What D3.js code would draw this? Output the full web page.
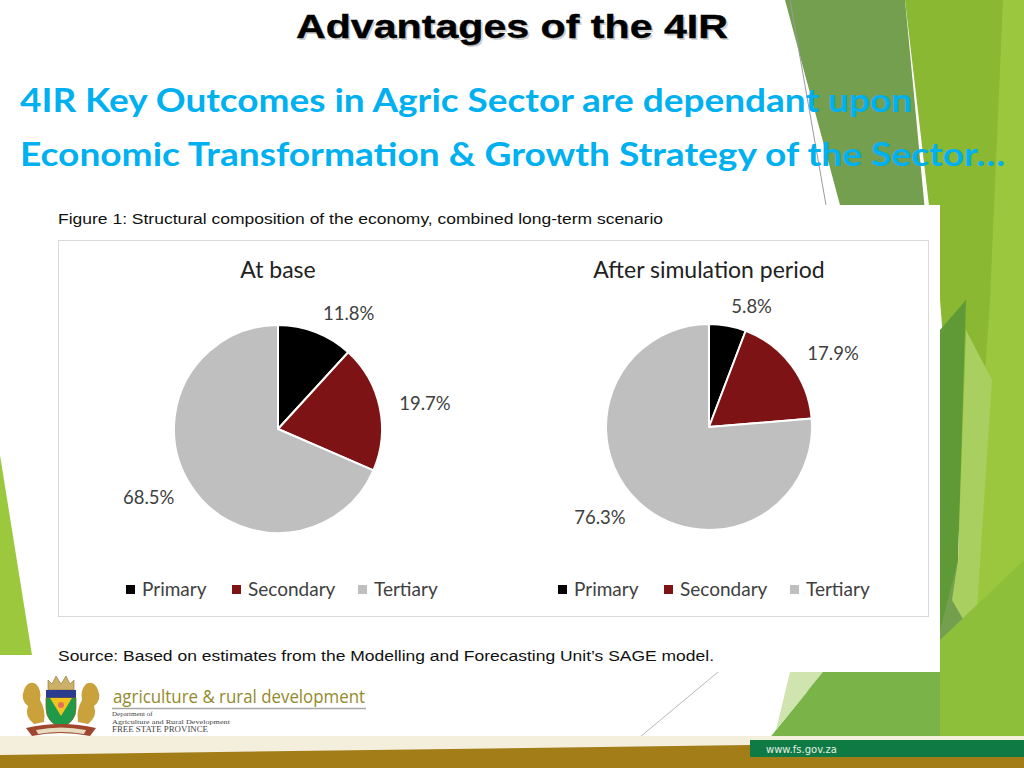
<!DOCTYPE html>
<html>
<head>
<meta charset="utf-8">
<script src="https://cdn.jsdelivr.net/npm/d3@7"></script>
<style>
  body { margin: 0; background: #fff; }
  svg { display: block; }
</style>
</head>
<body>
<svg id="Slide"></svg>
<script>
// chart values
let categories = ["Primary", "Secondary", "Tertiary"];
let baseShares = [11.8, 19.7, 68.5];
let afterShares = [5.8, 17.9, 76.3];
let pieTitles = ["At base", "After simulation period"];
let sliceColours = ["#000000", "#7d1315", "#bfbfbf"];

let slideTitle = "Advantages of the 4IR";
let subtitleLines = [
    "4IR Key Outcomes in Agric Sector are dependant upon",
    "Economic Transformation & Growth Strategy of the Sector\u2026"
];
let figureCaption = "Figure 1: Structural composition of the economy, combined long-term scenario";
let sourceNote = "Source: Based on estimates from the Modelling and Forecasting Unit\u2019s SAGE model.";

function getSlideConfig() {
    let width = 1024;
    let height = 768;
    let container = d3.select("#Slide")
        .attr("width", width)
        .attr("height", height);
    return { width, height, container }
}

function drawBackground(config) {
    let { container } = config;
    let shapes = [
        { pts: [[785,0],[905,0],[975,740],[800,740],[850,400],[840,205]], fill: "#739f4f" },
        { pts: [[905,0],[1003,0],[1000,740],[975,740],[940,300]], fill: "#8ab833" },
        { pts: [[1003,0],[1024,0],[1024,740],[960,740],[990,300]], fill: "#9ac73e" },
        { pts: [[940,330],[966,300],[958,560],[940,630]], fill: "#5f9a37" },
        { pts: [[966,330],[992,380],[975,640],[952,600],[958,560]], fill: "#a8cf60" },
        { pts: [[768,740],[823,672],[1024,672],[1024,740]], fill: "#7ab448" },
        { pts: [[940,640],[1024,560],[1024,740],[940,740]], fill: "#8dbf3a" },
        { pts: [[790,672],[823,672],[776,730]], fill: "#cfe4af" },
        { pts: [[0,455],[32,655],[0,655]], fill: "#9cc83e" }
    ];
    container.append("g").selectAll("polygon")
        .data(shapes)
        .enter().append("polygon")
        .attr("points", d => d.pts.map(p => p.join(",")).join(" "))
        .attr("fill", d => d.fill);

    container.append("line")
        .attr("x1", 790).attr("y1", 0).attr("x2", 826).attr("y2", 205)
        .attr("stroke", "#9a9a9a").attr("stroke-width", 1);
    container.append("line")
        .attr("x1", 640).attr("y1", 737).attr("x2", 718).attr("y2", 672)
        .attr("stroke", "#b8b8b8").attr("stroke-width", 1);

    // footer band
    container.append("rect")
        .attr("x", 0).attr("y", 736).attr("width", 1024).attr("height", 20)
        .attr("fill", "#f4eedc");
    container.append("polygon")
        .attr("points", "0,755 750,745 1024,744 1024,768 0,768")
        .attr("fill", "#a27d18");
    container.append("rect")
        .attr("x", 750).attr("y", 740).attr("width", 274).attr("height", 17)
        .attr("fill", "#0f7a43");
    container.append("text")
        .attr("x", 766).attr("y", 753)
        .attr("font-family", "Verdana, 'DejaVu Sans', sans-serif")
        .attr("font-size", 10)
        .attr("fill", "#e6efe6")
        .text("www.fs.gov.za");
}

function drawHeadings(config) {
    let { container } = config;
    container.append("text")
        .attr("x", 514).attr("y", 40)
        .attr("text-anchor", "middle")
        .attr("font-family", "'Liberation Sans', Arial, sans-serif")
        .attr("font-weight", "bold")
        .attr("font-size", 33)
        .attr("fill", "#9a9a9a")
        .attr("opacity", 0.45)
        .attr("textLength", 432)
        .attr("lengthAdjust", "spacingAndGlyphs")
        .text(slideTitle);
    container.append("text")
        .attr("x", 512).attr("y", 38)
        .attr("text-anchor", "middle")
        .attr("font-family", "'Liberation Sans', Arial, sans-serif")
        .attr("font-weight", "bold")
        .attr("font-size", 33)
        .attr("fill", "#000")
        .attr("stroke", "#000")
        .attr("stroke-width", 0.4)
        .attr("textLength", 432)
        .attr("lengthAdjust", "spacingAndGlyphs")
        .text(slideTitle);

    let widths = [892, 985];
    container.append("g").selectAll("text")
        .data(subtitleLines)
        .enter().append("text")
        .attr("x", 20)
        .attr("y", (d, i) => 112 + i * 54)
        .attr("font-family", "Lato, 'Open Sans', sans-serif")
        .attr("font-weight", "bold")
        .attr("font-size", 33)
        .attr("fill", "#00b0f0")
        .attr("textLength", (d, i) => widths[i])
        .attr("lengthAdjust", "spacingAndGlyphs")
        .text(d => d);
}

function drawFigurePanel(config) {
    let { container } = config;
    container.append("rect")
        .attr("x", 38).attr("y", 205).attr("width", 902).attr("height", 467)
        .attr("fill", "#fff");
    container.append("text")
        .attr("x", 58).attr("y", 224)
        .attr("font-family", "'Liberation Sans', Arial, sans-serif")
        .attr("font-size", 15.5)
        .attr("fill", "#111")
        .attr("textLength", 605)
        .attr("lengthAdjust", "spacingAndGlyphs")
        .text(figureCaption);
    container.append("rect")
        .attr("x", 58.5).attr("y", 240.5).attr("width", 870).attr("height", 376)
        .attr("fill", "#fff")
        .attr("stroke", "#d9d9d9");
    container.append("text")
        .attr("x", 58).attr("y", 661)
        .attr("font-family", "'Liberation Sans', Arial, sans-serif")
        .attr("font-size", 15.5)
        .attr("fill", "#111")
        .attr("textLength", 656)
        .attr("lengthAdjust", "spacingAndGlyphs")
        .text(sourceNote);
}

function drawPie(values, title, cx, cy, radius, legendX, config) {
    let { container } = config;
    let colour = d3.scaleOrdinal().domain(categories).range(sliceColours);
    let slices = d3.pie()
        .sort(null)
        .value(d => d.value)(categories.map((c, i) => ({ name: c, value: values[i] })));
    let arc = d3.arc().innerRadius(0).outerRadius(radius);
    let labelArc = d3.arc().innerRadius(radius + 20).outerRadius(radius + 20);

    let body = container.append("g")
        .attr("transform", `translate(${cx},${cy})`);

    body.selectAll("path")
        .data(slices)
        .enter().append("path")
        .attr("d", arc)
        .attr("fill", d => colour(d.data.name))
        .attr("stroke", "#fff")
        .attr("stroke-width", 2)
        .attr("stroke-linejoin", "round");

    body.selectAll("text.label")
        .data(slices)
        .enter().append("text")
        .attr("class", "label")
        .attr("x", d => labelArc.centroid(d)[0])
        .attr("y", d => labelArc.centroid(d)[1])
        .attr("dy", "0.35em")
        .attr("text-anchor", d => labelArc.centroid(d)[0] > 0 ? "start" : "end")
        .attr("font-family", "Lato, 'Open Sans', sans-serif")
        .attr("font-size", 18.5)
        .attr("fill", "#404040")
        .text(d => d.data.value.toFixed(1) + "%");

    container.append("text")
        .attr("x", cx).attr("y", 278)
        .attr("text-anchor", "middle")
        .attr("font-family", "Lato, 'Open Sans', sans-serif")
        .attr("font-size", 23)
        .attr("fill", "#222")
        .text(title);

    // legend
    let legendStep = [0, 106, 232];
    let legend = container.append("g")
        .attr("transform", `translate(${legendX},589)`);
    let items = legend.selectAll("g")
        .data(categories)
        .enter().append("g")
        .attr("transform", (d, i) => `translate(${legendStep[i]},0)`);
    items.append("rect")
        .attr("x", 0).attr("y", -4).attr("width", 9).attr("height", 9)
        .attr("fill", d => colour(d));
    items.append("text")
        .attr("x", 16).attr("y", 0)
        .attr("dy", "0.35em")
        .attr("font-family", "Lato, 'Open Sans', sans-serif")
        .attr("font-size", 19)
        .attr("fill", "#404040")
        .text(d => d);
}

function drawLogo(config) {
    let { container } = config;
    let g = container.append("g");
    // lions
    g.append("path")
        .attr("d", "M24,690 q4,-10 12,-6 q6,6 4,16 q6,10 4,22 l-10,2 q-10,-8 -6,-18 q-8,-6 -4,-16z")
        .attr("fill", "#c9a23c");
    g.append("path")
        .attr("d", "M98,690 q-4,-10 -12,-6 q-6,6 -4,16 q-6,10 -4,22 l10,2 q10,-8 6,-18 q8,-6 4,-16z")
        .attr("fill", "#c9a23c");
    // crown
    g.append("path")
        .attr("d", "M48,690 l0,-10 l4,4 l4,-8 l5,8 l5,-8 l4,8 l4,-4 l0,10z")
        .attr("fill", "#cdb067").attr("stroke", "#8a7331").attr("stroke-width", 0.6);
    // shield
    g.append("rect").attr("x", 46).attr("y", 690).attr("width", 30).attr("height", 8).attr("fill", "#2b3c8f");
    g.append("path")
        .attr("d", "M46,698 h30 v10 q0,14 -15,20 q-15,-6 -15,-20z")
        .attr("fill", "#1f9a48").attr("stroke", "#7b6a25").attr("stroke-width", 0.8);
    g.append("path")
        .attr("d", "M50,698 h22 l-11,18z")
        .attr("fill", "#f2c320");
    g.append("circle").attr("cx", 61).attr("cy", 705).attr("r", 3).attr("fill", "#e0705a");
    // ribbon
    g.append("path")
        .attr("d", "M26,728 q35,-8 70,0 l-6,8 q-30,-6 -58,0z")
        .attr("fill", "#a0462e");
    g.append("path")
        .attr("d", "M36,730 q25,-5 50,0 l-2,4 q-23,-4 -46,0z")
        .attr("fill", "#e8dcc0");

    g.append("text")
        .attr("x", 113).attr("y", 703)
        .attr("font-family", "'Open Sans', sans-serif")
        .attr("font-size", 19)
        .attr("fill", "#948a2c")
        .attr("textLength", 252)
        .attr("lengthAdjust", "spacingAndGlyphs")
        .text("agriculture & rural development");
    g.append("line")
        .attr("x1", 112).attr("y1", 708.5).attr("x2", 366).attr("y2", 708.5)
        .attr("stroke", "#a8a8a8").attr("stroke-width", 1.5);
    let small = [
        { t: "Department of", y: 716, s: 7, w: 0 },
        { t: "Agriculture and Rural Development", y: 723.5, s: 7, w: 118 },
        { t: "FREE STATE PROVINCE", y: 732, s: 9, w: 96 }
    ];
    g.selectAll("text.small")
        .data(small)
        .enter().append("text")
        .attr("class", "small")
        .attr("x", 112)
        .attr("y", d => d.y)
        .attr("font-family", "'Liberation Serif', serif")
        .attr("font-size", d => d.s)
        .attr("fill", "#444")
        .each(function(d) {
            if (d.w) d3.select(this).attr("textLength", d.w).attr("lengthAdjust", "spacingAndGlyphs");
        })
        .text(d => d.t);
}

function showSlide() {
    let config = getSlideConfig();
    drawBackground(config);
    drawHeadings(config);
    drawFigurePanel(config);
    drawPie(baseShares, pieTitles[0], 278, 429, 104, 126, config);
    drawPie(afterShares, pieTitles[1], 709, 427, 103, 558, config);
    drawLogo(config);
}

showSlide();
</script>
</body>
</html>
